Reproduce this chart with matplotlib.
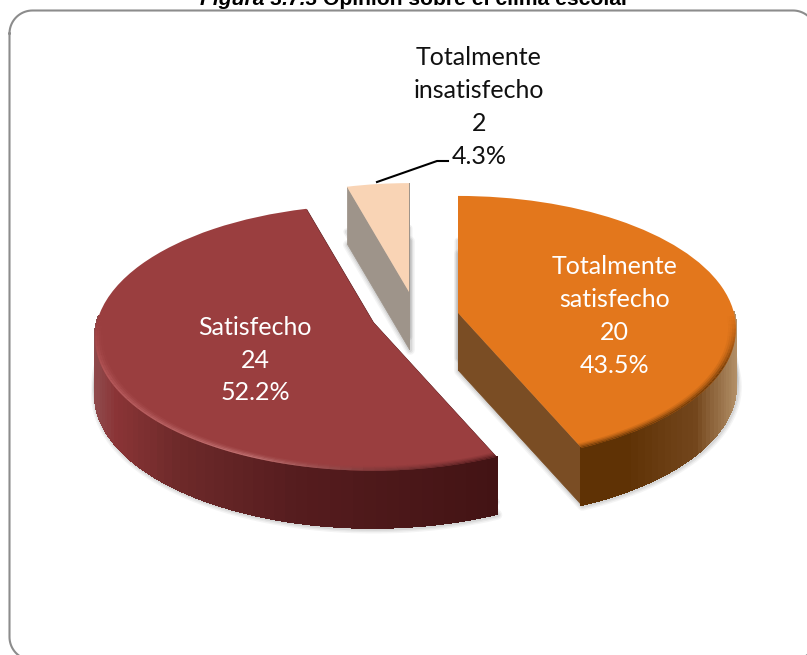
import numpy as np
import matplotlib
matplotlib.use('Agg')
import matplotlib.pyplot as plt
from matplotlib.collections import PolyCollection
from matplotlib.colors import to_rgb
from matplotlib.transforms import Affine2D, Transform

categories = ['Totalmente\nsatisfecho', 'Satisfecho', 'Totalmente\ninsatisfecho']
counts = [20, 24, 2]
percent_labels = ['43.5%', '52.2%', '4.3%']

top_colors = ['#E3771C', '#9A3E3F', '#F9D4B5']
cut_colors = ['#7A4D24', '#5A1A1C', '#9E948A']

# wall colour along x, each slice goes from its left end to its right end
wall_stops = [
    [(0.0, '#5F3205'), (0.6, '#5F3205'), (0.85, '#73461C'), (1.0, '#B39068')],
    [(0.0, '#8F4A4C'), (0.05, '#8A3436'), (0.2, '#6E2A2A'), (0.5, '#551C1E'), (1.0, '#431314')],
    [(0.0, '#9E948A'), (1.0, '#9E948A')],
]
# soft band on the front edge of the top face
rim_stops = [
    [(0.0, '#5F3205'), (1.0, '#5F3205')],
    [(0.0, '#B85A5C'), (0.4, '#C97F7F'), (0.7, '#7A3A3B'), (1.0, '#4A1618')],
    [(0.0, '#F9D4B5'), (1.0, '#F9D4B5')],
]

# where the tip of each slice ends up, in pixels
tips = [(458, 313), (373, 322), (409, 292)]
slice_scale = [1.0, 1.0, 0.93]
rx, ry = 276, 131
depth = 0.119
wall_h = 57


class Perspective(Transform):
    input_dims = 2
    output_dims = 2
    is_affine = False

    def transform_non_affine(self, values):
        values = np.asarray(values, dtype=float)
        s = 1 / (1 + depth * values[:, 1])
        return values * s[:, None]


def stop_color(stops, t):
    pos = [p[0] for p in stops]
    rgb = np.array([to_rgb(p[1]) for p in stops])
    return tuple(np.interp(t, pos, rgb[:, i]) for i in range(3))


fig = plt.figure(figsize=(8.07, 6.55), dpi=100)
ax = fig.add_axes([0, 0, 1, 1])

shares = np.array(counts) / sum(counts)
ends = np.cumsum(shares) * 360
starts = ends - shares * 360

wedges, _ = ax.pie(counts, colors=top_colors, startangle=90, counterclock=False,
                   wedgeprops={'linewidth': 0})

ax.set_aspect('auto')
ax.set_xlim(0, 807)
ax.set_ylim(655, 0)
ax.axis('off')

for i in range(len(counts)):
    k = slice_scale[i]
    to_px = Perspective() + Affine2D().scale(rx * k, -ry * k).translate(*tips[i])
    th = np.radians(np.linspace(starts[i], ends[i], 90))
    unit = np.column_stack([np.sin(th), np.cos(th)])
    arc = to_px.transform(unit)
    tip = np.array(tips[i], dtype=float)
    down = np.array([0, wall_h])
    xmin, xmax = arc[:, 0].min(), arc[:, 0].max()

    # soft shadow round the base
    outline = np.vstack([tip, arc]) + down
    for lw, alpha in [(7, 0.08), (5, 0.10), (3, 0.14)]:
        ax.add_collection(PolyCollection([outline + [1, 1]], facecolors='none',
                                         edgecolors='#777777', linewidths=lw,
                                         alpha=alpha, zorder=1))
    side = np.vstack([tip, arc])
    for lw, alpha in [(5, 0.10), (3, 0.14)]:
        ax.add_collection(PolyCollection([side + [0, 45]], facecolors='none',
                                         edgecolors='#777777', linewidths=lw,
                                         alpha=alpha, zorder=1))

    # the two cut faces
    for end in (arc[0], arc[-1]):
        face = np.array([tip, end, end + down, tip + down])
        ax.add_collection(PolyCollection([face], facecolors=cut_colors[i],
                                         edgecolors=cut_colors[i],
                                         linewidths=0.5, zorder=2))

    # outer wall as small strips, front half only, the back one is hidden anyway
    quads = [np.array([arc[j], arc[j + 1], arc[j + 1] + down, arc[j] + down])
             for j in range(len(arc) - 1) if np.cos(th[j]) < 0.02]
    if quads:
        tvals = [(q[:, 0].mean() - xmin) / (xmax - xmin) for q in quads]
        cols = [stop_color(wall_stops[i], t) for t in tvals]
        ax.add_collection(PolyCollection(quads, facecolors=cols, edgecolors=cols,
                                         linewidths=1.0, antialiaseds=False, zorder=3))

    wedges[i].set_transform(to_px + ax.transData)
    wedges[i].set_zorder(4)
    wedges[i].set_clip_on(False)

    # rim bands, only where the edge faces the viewer
    for band, mix in enumerate([0.8, 0.55, 0.3, 0.12]):
        r1, r2 = 1 - band * 0.007, 1 - (band + 1) * 0.007
        outer = to_px.transform(unit * r1)
        inner = to_px.transform(unit * r2)
        band_quads, band_cols = [], []
        for j in range(len(th) - 1):
            front = np.clip(-np.cos(th[j]) * 2.5, 0, 1)
            if front <= 0 or i == 2:
                continue
            t = (outer[j, 0] - xmin) / (xmax - xmin)
            band_quads.append(np.array([outer[j], outer[j + 1], inner[j + 1], inner[j]]))
            band_cols.append((*stop_color(rim_stops[i], t), mix * front))
        if band_quads:
            ax.add_collection(PolyCollection(band_quads, facecolors=band_cols,
                                             linewidths=0, zorder=5))

label_font = 'Lato'
label_args = dict(family=label_font, fontsize=18, ha='center', va='center',
                  linespacing=1.51, zorder=10)
ax.text(614.5, 316, f'{categories[0]}\n{counts[0]}\n{percent_labels[0]}', color='white', **label_args)
ax.text(255, 360, f'{categories[1]}\n{counts[1]}\n{percent_labels[1]}', color='white', **label_args)
ax.text(479, 107, f'{categories[2]}\n{counts[2]}\n{percent_labels[2]}', color='#111111', **label_args)

# leader line of the small slice
ax.plot([377, 437, 448], [182, 161, 161], color='black', lw=1.5, zorder=10)

# rounded frame, runs off the right and bottom of the picture
left, top, right, bottom, corner = 9.5, 10.5, 816, 660, 23
frame_x, frame_y = [], []
for cx, cy, a0 in [(left + corner, top + corner, 180), (right - corner, top + corner, 270),
                   (right - corner, bottom - corner, 0), (left + corner, bottom - corner, 90)]:
    a = np.radians(np.linspace(a0, a0 + 90, 20))
    frame_x.extend(cx + corner * np.cos(a))
    frame_y.extend(cy + corner * np.sin(a))
ax.plot(frame_x + frame_x[:1], frame_y + frame_y[:1], color='#8C8C8C', lw=1.5, zorder=0.5)

# title is cut off by the top of the picture, same as the source
ax.text(200, 5, 'Figura 3.7.3', family='Liberation Sans', style='italic', weight='bold',
        fontsize=15.2, ha='left', va='baseline')
ax.text(323, 5, 'Opinión sobre el clima escolar', family='Liberation Sans', weight='bold',
        fontsize=15.2, ha='left', va='baseline')

fig.savefig('out.png', dpi=100)
